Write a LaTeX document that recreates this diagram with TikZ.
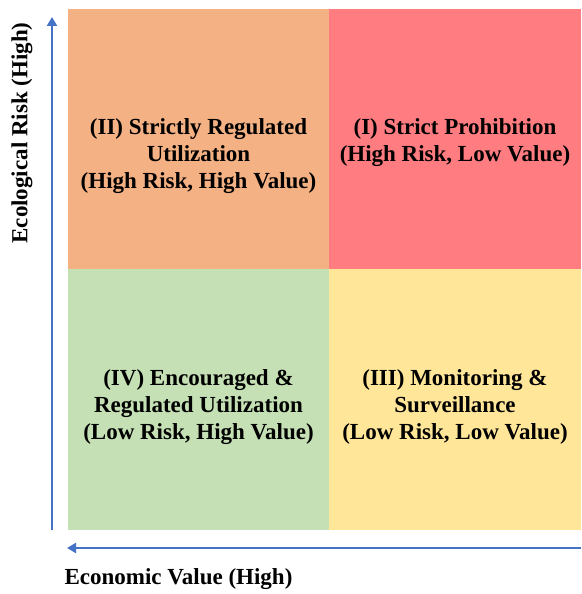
\documentclass[tikz,border=0pt]{standalone}
\usepackage{fontspec}
\setmainfont{Liberation Serif}
\usepackage{tikz}
\usetikzlibrary{positioning, arrows.meta}
\definecolor{qdOrange}{RGB}{244, 177, 131}
\definecolor{qdRed}{RGB}{255, 124, 128}
\definecolor{qdGreen}{RGB}{197, 224, 180}
\definecolor{qdYellow}{RGB}{255, 230, 153}
\definecolor{qdBlue}{RGB}{68, 114, 196}
\tikzset{
    base/.style={
        font=\bfseries\fontsize{23}{27}\selectfont,
        align=center
    },
    quadrant/.style={
        rectangle,
        draw=none,
        minimum width=261pt,
        minimum height=260pt,
        inner sep=0pt
    },
    quadtext/.style={
        base,
        inner sep=0pt
    },
    axis/.style={
        -{Triangle[length=9pt, width=10pt]},
        line width=2.6pt,
        color=qdBlue
    },
    axislabel/.style={
        base,
        font=\bfseries\fontsize{23}{27}\selectfont
    }
}
\begin{document}
\begin{tikzpicture}[x=1pt, y=-1pt]
    \useasboundingbox (0,0) rectangle (581,594);

    % Quadrants
    \node[quadrant, fill=qdOrange, minimum width=261pt] (q2) at (198.5,139) {};
    \node[quadrant, fill=qdRed, minimum width=252pt] (q1) at (455,139) {};
    \node[quadrant, fill=qdGreen, minimum width=261pt, minimum height=261pt] (q4) at (198.5,399.5) {};
    \node[quadrant, fill=qdYellow, minimum width=252pt, minimum height=261pt] (q3) at (455,399.5) {};

    \node[quadtext] (t2) at ([yshift=-17pt]q2.center) {(II) Strictly Regulated\\ Utilization\\ (High Risk, High Value)};
    \node[quadtext] (t1) at ([yshift=-4pt]q1.center) {(I) Strict Prohibition\\ (High Risk, Low Value)};
    \node[quadtext] (t4) at ([yshift=-7.5pt]q4.center) {(IV) Encouraged \&\\ Regulated Utilization\\ (Low Risk, High Value)};
    \node[quadtext] (t3) at ([yshift=-7.5pt]q3.center) {(III) Monitoring \&\\ Surveillance\\ (Low Risk, Low Value)};

    % Axes
    \coordinate (ybot) at (52,530);
    \coordinate (ytop) at (52,17);
    \coordinate (xright) at (581,548);
    \coordinate (xleft) at (67,548);
    \draw[axis] (ybot) -- (ytop);
    \draw[axis] (xright) -- (xleft);

    \node[axislabel, rotate=90] (ylabel) at (22,133) {Ecological Risk (High)};
    \node[axislabel] (xlabel) at (178.5,579) {Economic Value (High)};
\end{tikzpicture}
\end{document}
